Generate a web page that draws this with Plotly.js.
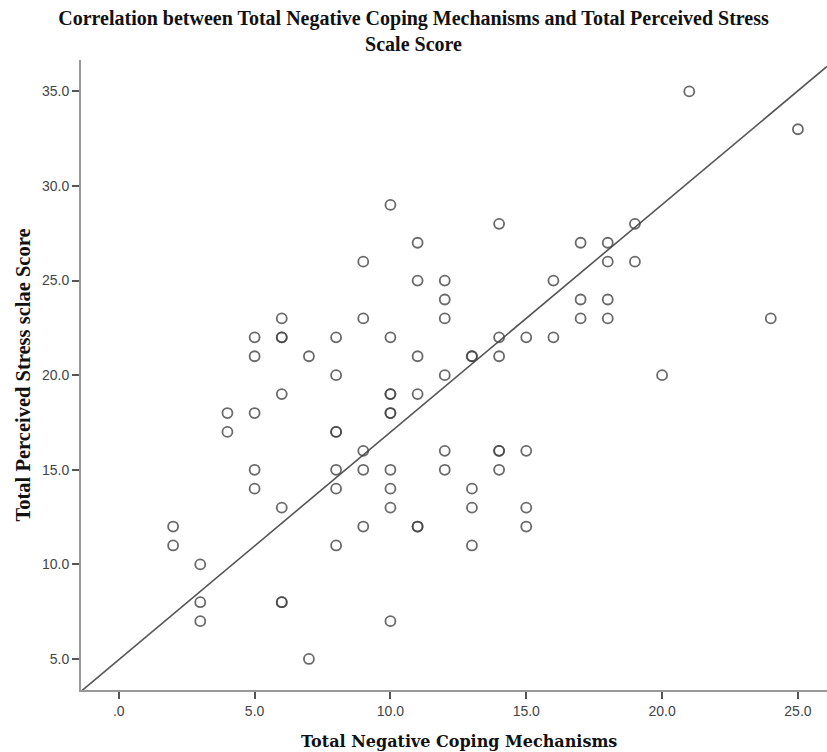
<!DOCTYPE html>
<html>
<head>
<meta charset="utf-8">
<script src="https://cdn.plot.ly/plotly-3.0.1.min.js"></script>
<style>html,body{margin:0;padding:0;background:#fff;}#chart{width:827px;height:752px;}</style>
</head>
<body>
<div id="chart"></div>
<script>
// Total Negative Coping Mechanisms (x) and Total Perceived Stress Scale Score (y)
const copingScores = [2,2,3,3,3,4,4,5,5,5,5,5,6,6,6,6,6,6,6,7,7,8,8,8,8,8,8,8,9,9,9,9,9,
  10,10,10,10,10,10,10,10,10,10,11,11,11,11,11,11,12,12,12,12,12,12,13,13,13,13,13,
  14,14,14,14,14,14,15,15,15,15,16,16,17,17,17,18,18,18,18,19,19,20,21,24,25];
const stressScores = [12,11,10,8,7,18,17,22,21,18,15,14,23,22,22,19,13,8,8,21,5,22,20,17,17,15,14,11,26,23,16,15,12,
  29,22,19,19,18,18,15,14,13,7,27,25,21,19,12,12,25,24,23,20,16,15,21,21,14,13,11,
  28,22,21,16,16,15,22,16,13,12,25,22,27,24,23,27,26,24,23,28,26,20,35,23,33];
// reference line as drawn in the chart
const lineIntercept = 4.96;
const lineSlope = 1.203;
const xTickValues = [0,5,10,15,20,25];
const xTickLabels = [".0","5.0","10.0","15.0","20.0","25.0"];
const yTickValues = [5,10,15,20,25,30,35];
const yTickLabels = ["5.0","10.0","15.0","20.0","25.0","30.0","35.0"];
const xRange = [-1.39, 26.07];
const yRange = [3.36, 36.66];

const lineX = xRange.slice();
const lineY = lineX.map(v => lineIntercept + lineSlope * v);

const traces = [
  {x: lineX, y: lineY, type: 'scatter', mode: 'lines',
   line: {color: '#555', width: 1.6}, hoverinfo: 'skip', showlegend: false},
  {x: copingScores, y: stressScores, type: 'scatter', mode: 'markers',
   marker: {symbol: 'circle-open', size: 10, color: '#444', opacity: 0.8, line: {width: 1.8, color: '#444'}},
   showlegend: false}
];

const axisCommon = {
  showgrid: false, zeroline: false, showline: true, linecolor: '#999', linewidth: 2,
  ticks: 'outside', ticklen: 7, tickwidth: 2, tickcolor: '#555',
  tickfont: {family: 'Liberation Sans, Arial, sans-serif', size: 14, color: '#444'}
};

const layout = {
  width: 827, height: 752,
  margin: {l: 81, r: 0, t: 60, b: 62},
  paper_bgcolor: '#fff', plot_bgcolor: '#fff',
  title: {text: 'Correlation between Total Negative Coping Mechanisms and Total Perceived Stress<br>Scale Score',
    font: {family: 'Liberation Serif, Times New Roman, serif', size: 20, color: '#111', weight: 'bold'},
    x: 0.5, xanchor: 'center', y: 1 - 25 / 752, yanchor: 'top'},
  xaxis: Object.assign({}, axisCommon, {range: xRange, tickvals: xTickValues, ticktext: xTickLabels,
    title: {text: ''}}),
  yaxis: Object.assign({}, axisCommon, {range: yRange, tickvals: yTickValues, ticktext: yTickLabels,
    title: {text: 'Total Perceived Stress sclae Score', standoff: 6,
      font: {family: 'Liberation Serif, Times New Roman, serif', size: 20.5, color: '#111', weight: 'bold'}}}),
  annotations: [{
    text: 'Total Negative Coping Mechanisms', xref: 'paper', yref: 'paper',
    x: (459 - 81) / 746, xanchor: 'center', y: -(741 - 690) / 630, yanchor: 'middle', showarrow: false,
    font: {family: 'DejaVu Serif, serif', size: 16, color: '#111', weight: 'bold'}
  }]
};

Plotly.newPlot('chart', traces, layout, {displayModeBar: false, staticPlot: true});
</script>
</body>
</html>
